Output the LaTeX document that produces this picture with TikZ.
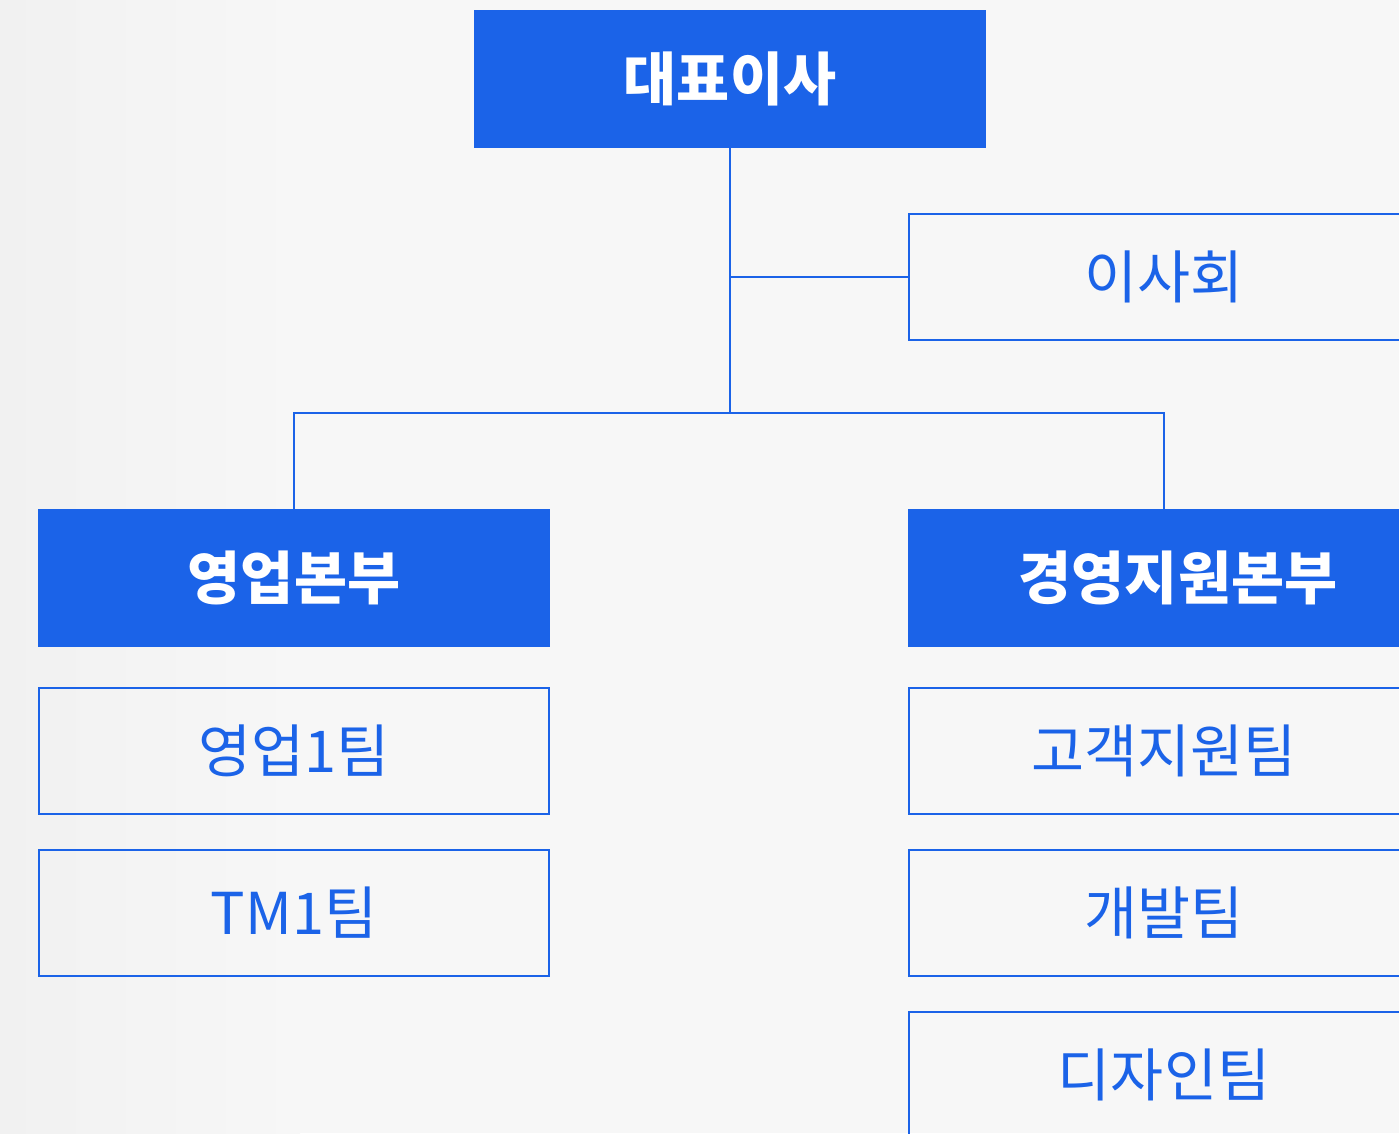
\documentclass[tikz,border=0pt]{standalone}
\usepackage{fontspec}
\setmainfont{Noto Sans CJK KR}
\usepackage{xcolor}

\begin{document}
\begin{tikzpicture}[x=0.025cm,y=-0.025cm,
  headbox/.style={rectangle,fill=orgblue,text=white,font=\fontsize{41}{48}\selectfont\bfseries,
    minimum width=12.8cm,minimum height=3.45cm,inner sep=0},
  teambox/.style={rectangle,draw=orgblue,line width=1.4pt,text=orgblue,font=\fontsize{41}{48}\selectfont,
    minimum width=12.75cm,minimum height=3.15cm,inner sep=0},
  link/.style={draw=orgblue,line width=1.4pt}]
\definecolor{orgblue}{HTML}{1B63E8}
\definecolor{paper}{HTML}{F7F7F7}
\definecolor{paperdark}{HTML}{F1F1F1}
\useasboundingbox (0,0) rectangle (1399,1133);
\clip (0,0) rectangle (1399,1133);
\fill[paper] (0,0) rectangle (1399,1133);
\shade[left color=paperdark,right color=paper] (0,0) rectangle (300,1133);
% top
\node [headbox] (ceo) at (730,79) {대표이사};
\node [teambox] (board) at (1164,277) {이사회};
% divisions
\node [headbox] (sales) at (294,578) {영업본부};
\node [headbox] (mgmt) at (1164,578) {};
\node [text=white,font=\fontsize{41}{48}\selectfont\bfseries] (mgmtlabel) at (1178,578) {경영지원본부};
% teams
  \foreach \nm/\txt/\px/\py in {sales1/영업1팀/294/751,tm1/TM1팀/294/913,
      care/고객지원팀/1164/751,dev/개발팀/1164/913,design/디자인팀/1164/1075}
  {  \node [teambox] (\nm) at (\px,\py) {\txt};}
% connectors
\coordinate (bar) at (730,413);
\draw [link] (ceo.south) -- (bar);
\draw [link] (ceo.south |- board.west) -- (board.west);
\draw [link] (bar) -| (sales.north);
\draw [link] (bar) -| (mgmt.north);
\end{tikzpicture}
\end{document}
